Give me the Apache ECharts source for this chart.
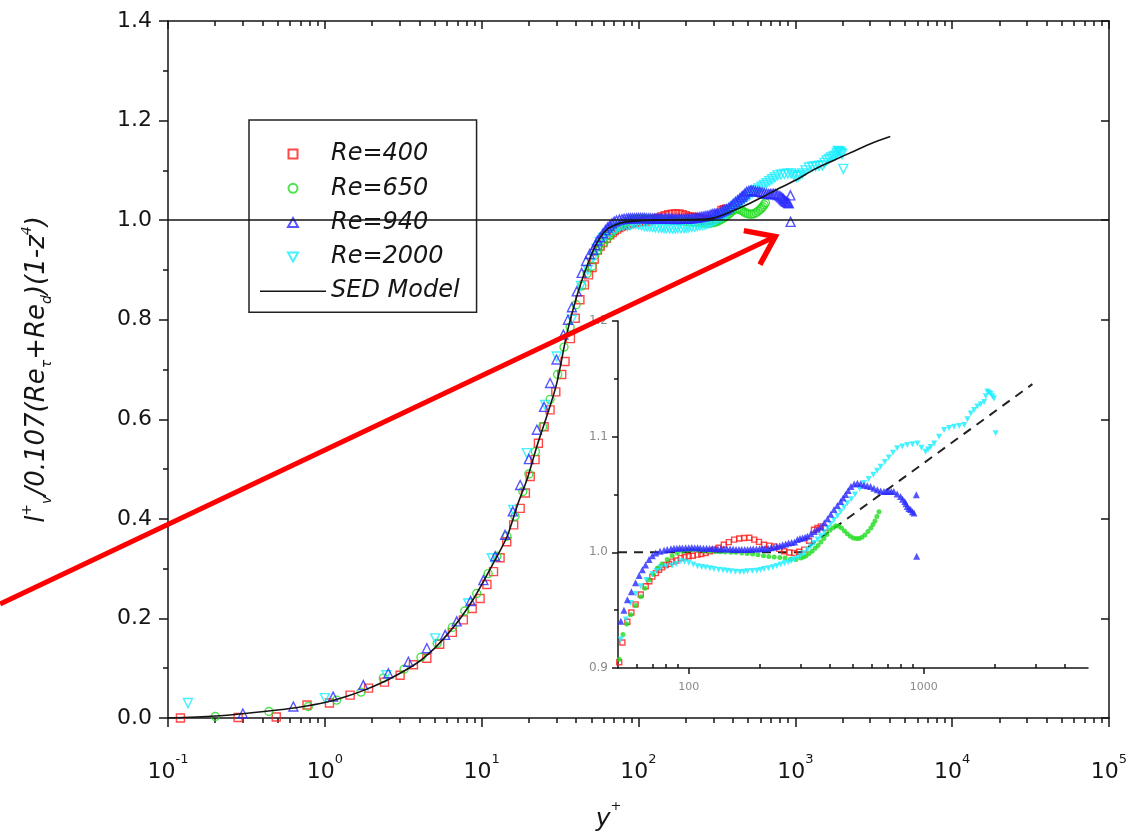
<!DOCTYPE html>
<html>
<head>
<meta charset="utf-8">
<script src="https://cdn.jsdelivr.net/npm/echarts@6/dist/echarts.min.js"></script>
<style>
  html, body { margin: 0; padding: 0; background: #ffffff; }
  #chart { width: 1136px; height: 840px; }
</style>
</head>
<body>
<div id="chart"></div>
<script>
// ---- data: [y+, normalised mixing length] ----
const re400 = [[0.12,0.000],[0.28,0.001],[0.49,0.002],[0.77,0.026],[1.07,0.030],[1.45,0.046],[1.9,0.060],[2.4,0.072],[3.02,0.086],[3.67,0.107],[4.47,0.120],[5.4,0.148],[6.5,0.172],[7.64,0.197],[8.7,0.220],[9.77,0.240],[10.8,0.268],[11.9,0.294],[13.1,0.322],[14.45,0.354],[16.0,0.388],[17.6,0.421],[19.0,0.452],[20.4,0.485],[21.9,0.519],[23.0,0.552],[25.0,0.585],[27.3,0.619],[29.7,0.655],[32.4,0.690],[34.0,0.716],[36.8,0.762],[39.5,0.803],[42.3,0.840],[45.2,0.870],[48.0,0.890],[50.6,0.905],[52.2,0.922],[54.8,0.940],[57.0,0.948],[59.4,0.955],[62.5,0.9635],[65.6,0.9707],[68.0,0.975],[70.0,0.979],[72.5,0.982],[74.8,0.985],[77.0,0.987],[79.8,0.989],[82.5,0.990],[85.1,0.992],[88.5,0.993],[92.5,0.995],[96.0,0.996],[100,0.9966],[104,0.997],[109,0.998],[113,0.9985],[118,0.9994],[123,1.001],[128,1.0023],[134,1.004],[141,1.0066],[148,1.0088],[156,1.011],[164,1.012],[172,1.0124],[181,1.0126],[190,1.011],[199,1.009],[209,1.0066],[220,1.0058],[231,1.005],[243,1.003],[255,1.0009],[268,0.9998],[281,0.9994],[295,1.0005],[310,1.0023],[325,1.010],[341,1.0195],[353,1.021],[365,1.0224],[380,1.021]];

const re650 = [[0.2,0.003],[0.44,0.013],[0.785,0.023],[1.19,0.036],[1.7,0.052],[2.36,0.080],[3.2,0.098],[4.1,0.122],[5.2,0.150],[6.5,0.182],[7.8,0.215],[9.3,0.250],[11.0,0.290],[12.5,0.325],[14.5,0.365],[16.3,0.405],[18.3,0.455],[20.0,0.490],[22.0,0.535],[24.5,0.585],[27.3,0.640],[30.5,0.690],[33.5,0.745],[36.6,0.785],[40,0.830],[43.5,0.868],[47,0.893],[50.6,0.9075],[52.5,0.929],[54.5,0.938],[56.6,0.946],[59.5,0.954],[62.5,0.9615],[65,0.969],[67.8,0.976],[70.5,0.981],[73.6,0.9865],[77,0.990],[81,0.9937],[85,0.997],[89.5,0.9994],[94,1.001],[98.7,1.0017],[104,1.002],[110,1.0018],[116,1.0014],[122,1.001],[129,1.0008],[136,1.0005],[143,1.0003],[151,1.0],[159,1.0],[168,0.9995],[177,0.999],[187,0.9985],[197,0.998],[208,0.997],[219,0.9965],[231,0.996],[244,0.9955],[257,0.995],[271,0.994],[286,0.9937],[300,0.995],[308,0.996],[316,0.997],[325,0.999],[335,1.001],[345,1.0035],[355,1.006],[365,1.009],[376,1.012],[387,1.0155],[398,1.019],[410,1.021],[422,1.023],[434,1.0225],[447,1.021],[460,1.0185],[473,1.016],[487,1.014],[501,1.0125],[516,1.012],[531,1.012],[546,1.013],[562,1.015],[579,1.018],[596,1.021],[608,1.024],[620,1.027],[632,1.031],[645,1.035]];

const re940 = [[0.3,0.009],[0.63,0.023],[1.13,0.043],[1.76,0.066],[2.54,0.090],[3.41,0.113],[4.47,0.140],[5.85,0.167],[6.93,0.194],[8.5,0.235],[10.26,0.277],[12.2,0.325],[14.1,0.368],[15.8,0.415],[17.6,0.468],[20.0,0.520],[22.5,0.579],[25.0,0.625],[27.3,0.673],[30.0,0.720],[33.2,0.770],[35.5,0.800],[37.6,0.825],[40.4,0.857],[43.4,0.894],[46.3,0.918],[48.8,0.932],[51.4,0.9405],[53,0.950],[54.8,0.959],[57,0.966],[59.4,0.9736],[61.5,0.980],[63.5,0.985],[65.5,0.989],[67.8,0.9937],[70,0.997],[72.4,0.9994],[75.5,1.001],[78.5,1.0017],[81,1.0025],[84,1.003],[86.5,1.0035],[89,1.0035],[91.5,1.0038],[94,1.0038],[97,1.004],[100,1.004],[103,1.0042],[106,1.004],[109,1.004],[112,1.0038],[115.5,1.0036],[119,1.0035],[122.5,1.0034],[126,1.0033],[129.5,1.003],[133,1.003],[137,1.0031],[141,1.003],[145.5,1.0029],[150,1.0028],[154.5,1.0026],[159,1.0025],[163.5,1.0025],[168,1.0025],[173,1.0024],[178,1.0025],[183,1.0027],[188,1.0028],[194,1.0029],[200,1.003],[205.5,1.0031],[211,1.0033],[217.5,1.0036],[224,1.004],[230.5,1.0045],[237,1.005],[244,1.0057],[251,1.0065],[258.5,1.0072],[266,1.008],[274,1.0085],[282,1.009],[290,1.011],[297.5,1.012],[305,1.0125],[312.5,1.013],[320,1.0138],[331,1.016],[342,1.018],[353,1.020],[365,1.022],[377.5,1.0255],[390,1.029],[402,1.033],[415,1.037],[429,1.0405],[443,1.044],[454,1.047],[465,1.050],[477,1.0535],[490,1.0569],[506,1.059],[522,1.0598],[539,1.0592],[557,1.058],[575,1.0575],[594,1.0569],[614,1.0555],[635,1.054],[656,1.053],[677,1.0526],[693,1.0526],[710,1.0526],[728,1.0527],[746,1.0526],[771,1.0505],[797,1.0483],[813,1.046],[830,1.044],[840,1.042],[851,1.0397],[865,1.038],[880,1.037],[895,1.035],[909,1.0339],[930,1.0497],[933,0.9966]];

const re2000 = [[0.134,0.030],[1.0,0.040],[2.47,0.086],[5.05,0.160],[8.22,0.230],[11.6,0.321],[15.9,0.418],[19.4,0.532],[25.4,0.629],[30.1,0.726],[37.6,0.800],[43,0.868],[47.5,0.900],[51.4,0.9247],[54,0.942],[56.6,0.9563],[59.5,0.964],[62.5,0.9707],[66,0.976],[70,0.981],[73,0.984],[75.9,0.9868],[80,0.9878],[85,0.9885],[88.5,0.990],[92.5,0.9922],[96,0.9918],[100,0.991],[104.5,0.9895],[108.9,0.988],[113.5,0.9874],[118,0.9868],[123,0.9862],[128,0.9856],[134,0.985],[140,0.9845],[145.5,0.984],[151,0.9836],[158,0.9832],[165,0.983],[171.5,0.9833],[178,0.9836],[186.5,0.9838],[195,0.984],[202,0.9848],[209,0.9856],[218.5,0.9863],[228,0.987],[237,0.9882],[246,0.9894],[255.5,0.9905],[265,0.9915],[273,0.9926],[281,0.9937],[290.5,0.9953],[300,0.997],[310,0.9995],[320,1.0023],[331,1.005],[342,1.008],[353.5,1.011],[365,1.0138],[377.5,1.0173],[390,1.021],[402.5,1.0245],[415,1.028],[429,1.0315],[443,1.035],[458,1.0388],[473,1.0425],[491.5,1.046],[510,1.050],[533,1.055],[557,1.060],[583,1.0635],[610,1.067],[633,1.0705],[656,1.074],[683,1.078],[710,1.082],[740,1.086],[771,1.090],[810,1.0915],[851,1.0928],[895,1.0935],[940,1.094],[978,1.0905],[1018,1.087],[1044,1.089],[1070,1.091],[1107,1.094],[1162,1.100],[1220,1.1057],[1282,1.1075],[1346,1.1086],[1415,1.1093],[1486,1.110],[1535,1.115],[1585,1.120],[1637,1.123],[1690,1.126],[1748,1.128],[1807,1.130],[1836,1.135],[1866,1.139],[1897,1.138],[1928,1.137],[1960,1.135],[1990,1.133],[2023,1.103]];

// SED model curve
const sedModel = [[0.1,0.0],[0.2,0.004],[0.33,0.010],[0.5,0.016],[0.7,0.022],[1.0,0.031],[1.4,0.044],[1.85,0.058],[2.6,0.079],[3.85,0.110],[5.0,0.140],[6.2,0.172],[7.5,0.205],[8.9,0.240],[10.5,0.280],[12.2,0.318],[14.5,0.364],[17.0,0.430],[19.5,0.480],[22.5,0.546],[26.0,0.606],[30.0,0.670],[35.0,0.773],[40.4,0.847],[46.8,0.907],[54.2,0.954],[62.8,0.981],[76.4,0.994],[93,0.998],[130,1.0],[184,1.0005],[240,1.0015],[299,1.004],[380,1.016],[490,1.031],[630,1.048],[800,1.065],[1030,1.082],[1304,1.101],[1750,1.120],[2344,1.138],[3100,1.155],[4030,1.168]];

// dashed guide drawn in the inset
const insetGuide = [[50,1.0],[300,1.0],[2900,1.1454]];

// axis tick values
const xMajor = [0.1, 1, 10, 100, 1000, 10000, 100000];
const xMinor = [0.2,0.3,0.4,0.5,0.6,0.7,0.8,0.9,2,3,4,5,6,7,8,9,20,30,40,50,60,70,80,90,200,300,400,500,600,700,800,900,2000,3000,4000,5000,6000,7000,8000,9000,20000,30000,40000,50000,60000,70000,80000,90000];
const insetMajor = [100, 1000];
const insetMinor = [60,70,80,90,200,300,400,500,600,700,800,900,2000,3000,4000];

const legendNames = ['Re=400', 'Re=650', 'Re=940', 'Re=2000', 'SED Model'];

// annotation arrow end points (data coordinates of the main plot)
const arrowFrom = [0.0085, 0.229];
const arrowTo = [745, 0.967];

const RED = '#ff1a1a', GREEN = '#1fdc1f', BLUE = '#2b2bff', CYAN = '#16eeff';
const FONT = 'DejaVu Sans';
const INK = '#151515';

// legend glyphs (kept square inside the wide legend slot)
const ICON_SQUARE = 'path://M0,0H10V10H0Z';
const ICON_CIRCLE = 'path://M5,0A5,5,0,1,1,5,10A5,5,0,1,1,5,0Z';
const ICON_UP = 'path://M5,0L10,9L0,9Z';
const ICON_DOWN = 'path://M0,0L10,0L5,9Z';
const ICON_LINE = 'path://M0,0H66V1.6H0Z';
const legendIcons = [ICON_SQUARE, ICON_CIRCLE, ICON_UP, ICON_DOWN, ICON_LINE];

const chart = echarts.init(document.getElementById('chart'), null, { renderer: 'canvas' });

function hollow(color) {
  return { color: 'rgba(0,0,0,0)', borderColor: color, borderWidth: 1.4 };
}

const mainSeries = [
  { name: 'Re=400', data: re400, symbol: 'rect', symbolSize: 8, color: RED },
  { name: 'Re=650', data: re650, symbol: 'circle', symbolSize: 8, color: GREEN },
  { name: 'Re=2000', data: re2000, symbol: 'triangle', symbolSize: 9, rotate: 180, color: CYAN },
  { name: 'Re=940', data: re940, symbol: 'triangle', symbolSize: 9, color: BLUE }
].map(s => ({
  name: s.name,
  type: 'scatter',
  xAxisIndex: 0,
  yAxisIndex: 0,
  data: s.data,
  symbol: s.symbol,
  symbolSize: s.symbolSize,
  symbolRotate: s.rotate || 0,
  itemStyle: hollow(s.color),
  emphasis: { disabled: true },
  z: 3
}));

const insetSeries = [
  { name: 'inset 400', data: re400, symbol: 'rect', symbolSize: 5, style: hollow(RED) },
  { name: 'inset 650', data: re650, symbol: 'circle', symbolSize: 5, style: { color: GREEN } },
  { name: 'inset 2000', data: re2000, symbol: 'triangle', symbolSize: 6, rotate: 180, style: { color: CYAN } },
  { name: 'inset 940', data: re940, symbol: 'triangle', symbolSize: 7, style: { color: BLUE } }
].map(s => ({
  name: s.name,
  type: 'scatter',
  xAxisIndex: 4,
  yAxisIndex: 2,
  data: s.data,
  symbol: s.symbol,
  symbolSize: s.symbolSize,
  symbolRotate: s.rotate || 0,
  itemStyle: s.style,
  clip: true,
  emphasis: { disabled: true },
  z: 3
}));

const axisLine = { show: true, lineStyle: { color: INK, width: 1.5 } };
const tickStyle = { color: INK, width: 1.5 };

const option = {
  animation: false,
  backgroundColor: '#ffffff',
  grid: [
    { left: 168, top: 21, width: 941, height: 697 },
    { left: 618, top: 321, width: 470, height: 347 }
  ],
  legend: {
    data: legendNames.map((n, i) => ({ name: n, icon: legendIcons[i] })),
    orient: 'vertical',
    left: 249,
    top: 120,
    padding: [22, 17, 9, 11],
    itemWidth: 66,
    itemHeight: 9,
    itemGap: 10.3,
    symbolKeepAspect: true,
    borderColor: '#222',
    borderWidth: 1.5,
    backgroundColor: '#ffffff',
    selectedMode: false,
    textStyle: { fontFamily: FONT, fontStyle: 'italic', fontSize: 24, color: INK, lineHeight: 24 }
  },
  xAxis: [
    {
      type: 'log', gridIndex: 0, min: 0.1, max: 100000, position: 'bottom',
      axisLine: axisLine,
      axisTick: { customValues: xMajor, length: 9, inside: false, lineStyle: tickStyle },
      axisLabel: {
        customValues: xMajor,
        margin: 35,
        formatter: v => '{b|10}{s|' + Math.round(Math.log10(v)) + '}',
        rich: {
          b: { fontFamily: FONT, fontSize: 22, color: INK, lineHeight: 30, verticalAlign: 'bottom' },
          s: { fontFamily: FONT, fontSize: 13, color: INK, lineHeight: 14, verticalAlign: 'top' }
        }
      },
      splitLine: { show: false },
      name: '{i|y}{s|+}',
      nameLocation: 'middle',
      nameGap: 82,
      nameTextStyle: {
        padding: [0, 60, 0, 0],
        rich: {
          i: { fontFamily: FONT, fontStyle: 'italic', fontSize: 25, color: INK, lineHeight: 32, verticalAlign: 'bottom' },
          s: { fontFamily: FONT, fontSize: 13, color: INK, lineHeight: 14, verticalAlign: 'top' }
        }
      }
    },
    {
      type: 'log', gridIndex: 0, min: 0.1, max: 100000, position: 'bottom',
      axisLine: { show: false },
      axisTick: { customValues: xMinor, length: 5, inside: false, lineStyle: tickStyle },
      axisLabel: { show: false },
      splitLine: { show: false }
    },
    {
      type: 'log', gridIndex: 0, min: 0.1, max: 100000, position: 'top',
      axisLine: axisLine,
      axisTick: { customValues: xMajor, length: 8, inside: true, lineStyle: tickStyle },
      axisLabel: { show: false },
      splitLine: { show: false }
    },
    {
      type: 'log', gridIndex: 0, min: 0.1, max: 100000, position: 'top',
      axisLine: { show: false },
      axisTick: { customValues: xMinor, length: 5, inside: true, lineStyle: tickStyle },
      axisLabel: { show: false },
      splitLine: { show: false }
    },
    {
      type: 'log', gridIndex: 1, min: 50, max: 5000, position: 'bottom',
      axisLine: axisLine,
      axisTick: { customValues: insetMajor, length: 6, inside: false, lineStyle: tickStyle },
      axisLabel: { customValues: insetMajor, margin: 14, fontFamily: FONT, fontSize: 11, color: '#8a8a8a', formatter: v => String(v) },
      splitLine: { show: false }
    },
    {
      type: 'log', gridIndex: 1, min: 50, max: 5000, position: 'bottom',
      axisLine: { show: false },
      axisTick: { customValues: insetMinor, length: 4, inside: true, lineStyle: tickStyle },
      axisLabel: { show: false },
      splitLine: { show: false }
    }
  ],
  yAxis: [
    {
      type: 'value', gridIndex: 0, min: 0, max: 1.4, interval: 0.2, position: 'left',
      axisLine: axisLine,
      axisTick: { show: true, length: 9, inside: false, lineStyle: tickStyle },
      minorTick: { show: true, splitNumber: 2, length: 5, lineStyle: tickStyle },
      axisLabel: { margin: 16, fontFamily: FONT, fontSize: 22, color: INK, formatter: v => v.toFixed(1) },
      splitLine: { show: false },
      name: '{i|l}{p|+}{b|v}{t|/0.107(Re}{b|τ}{t|+Re}{b|d}{t|)(1-z}{p|4}{t|)}',
      nameLocation: 'middle',
      nameRotate: 90,
      nameGap: 114,
      nameTextStyle: {
        rich: {
          i: { fontFamily: FONT, fontStyle: 'italic', fontSize: 26, color: INK, lineHeight: 34 },
          t: { fontFamily: FONT, fontStyle: 'italic', fontSize: 26, color: INK, lineHeight: 34 },
          p: { fontFamily: FONT, fontStyle: 'italic', fontSize: 14, color: INK, lineHeight: 14, verticalAlign: 'top' },
          b: { fontFamily: FONT, fontStyle: 'italic', fontSize: 14, color: INK, lineHeight: 14, verticalAlign: 'bottom' }
        }
      }
    },
    {
      type: 'value', gridIndex: 0, min: 0, max: 1.4, interval: 0.2, position: 'right',
      axisLine: axisLine,
      axisTick: { show: true, length: 8, inside: true, lineStyle: tickStyle },
      axisLabel: { show: false },
      splitLine: { show: false }
    },
    {
      type: 'value', gridIndex: 1, min: 0.9, max: 1.2, interval: 0.1, position: 'left',
      axisLine: axisLine,
      axisTick: { show: true, length: 6, inside: false, lineStyle: tickStyle },
      minorTick: { show: true, splitNumber: 2, length: 4, lineStyle: tickStyle },
      axisLabel: { margin: 10, fontFamily: FONT, fontSize: 12, color: '#8a8a8a', formatter: v => v.toFixed(1) },
      splitLine: { show: false }
    }
  ],
  series: [
    ...mainSeries,
    {
      name: 'SED Model',
      type: 'line',
      xAxisIndex: 0,
      yAxisIndex: 0,
      data: sedModel,
      smooth: 0.3,
      symbol: 'none',
      lineStyle: { color: INK, width: 1.6 },
      itemStyle: { color: INK },
      emphasis: { disabled: true },
      z: 4,
      markLine: {
        silent: true,
        symbol: 'none',
        label: { show: false },
        lineStyle: { color: INK, width: 1.5, type: 'solid' },
        data: [{ yAxis: 1.0 }]
      }
    },
    ...insetSeries,
    {
      name: 'inset guide',
      type: 'line',
      xAxisIndex: 4,
      yAxisIndex: 2,
      data: insetGuide,
      symbol: 'none',
      lineStyle: { color: '#222', width: 2, type: [9, 7] },
      emphasis: { disabled: true },
      z: 2
    }
  ]
};

chart.setOption(option);

// red annotation arrow, anchored to the main plot's axes
const p0 = chart.convertToPixel({ xAxisIndex: 0, yAxisIndex: 0 }, arrowFrom);
const p1 = chart.convertToPixel({ xAxisIndex: 0, yAxisIndex: 0 }, arrowTo);
const dx = p1[0] - p0[0], dy = p1[1] - p0[1];
const len = Math.sqrt(dx * dx + dy * dy);
const bx = -dx / len, by = -dy / len;
const headLen = 32, ang = 36 * Math.PI / 180;
const c = Math.cos(ang), s = Math.sin(ang);
const w1 = [p1[0] + headLen * (bx * c - by * s), p1[1] + headLen * (bx * s + by * c)];
const w2 = [p1[0] + headLen * (bx * c + by * s), p1[1] + headLen * (-bx * s + by * c)];

chart.setOption({
  graphic: [
    {
      type: 'line', z: 100, silent: true,
      shape: { x1: p0[0], y1: p0[1], x2: p1[0], y2: p1[1] },
      style: { stroke: '#ff0000', lineWidth: 5 }
    },
    {
      type: 'polyline', z: 100, silent: true,
      shape: { points: [w1, p1, w2] },
      style: { stroke: '#ff0000', lineWidth: 5.5, fill: null, lineJoin: 'miter' }
    }
  ]
});
</script>
</body>
</html>
